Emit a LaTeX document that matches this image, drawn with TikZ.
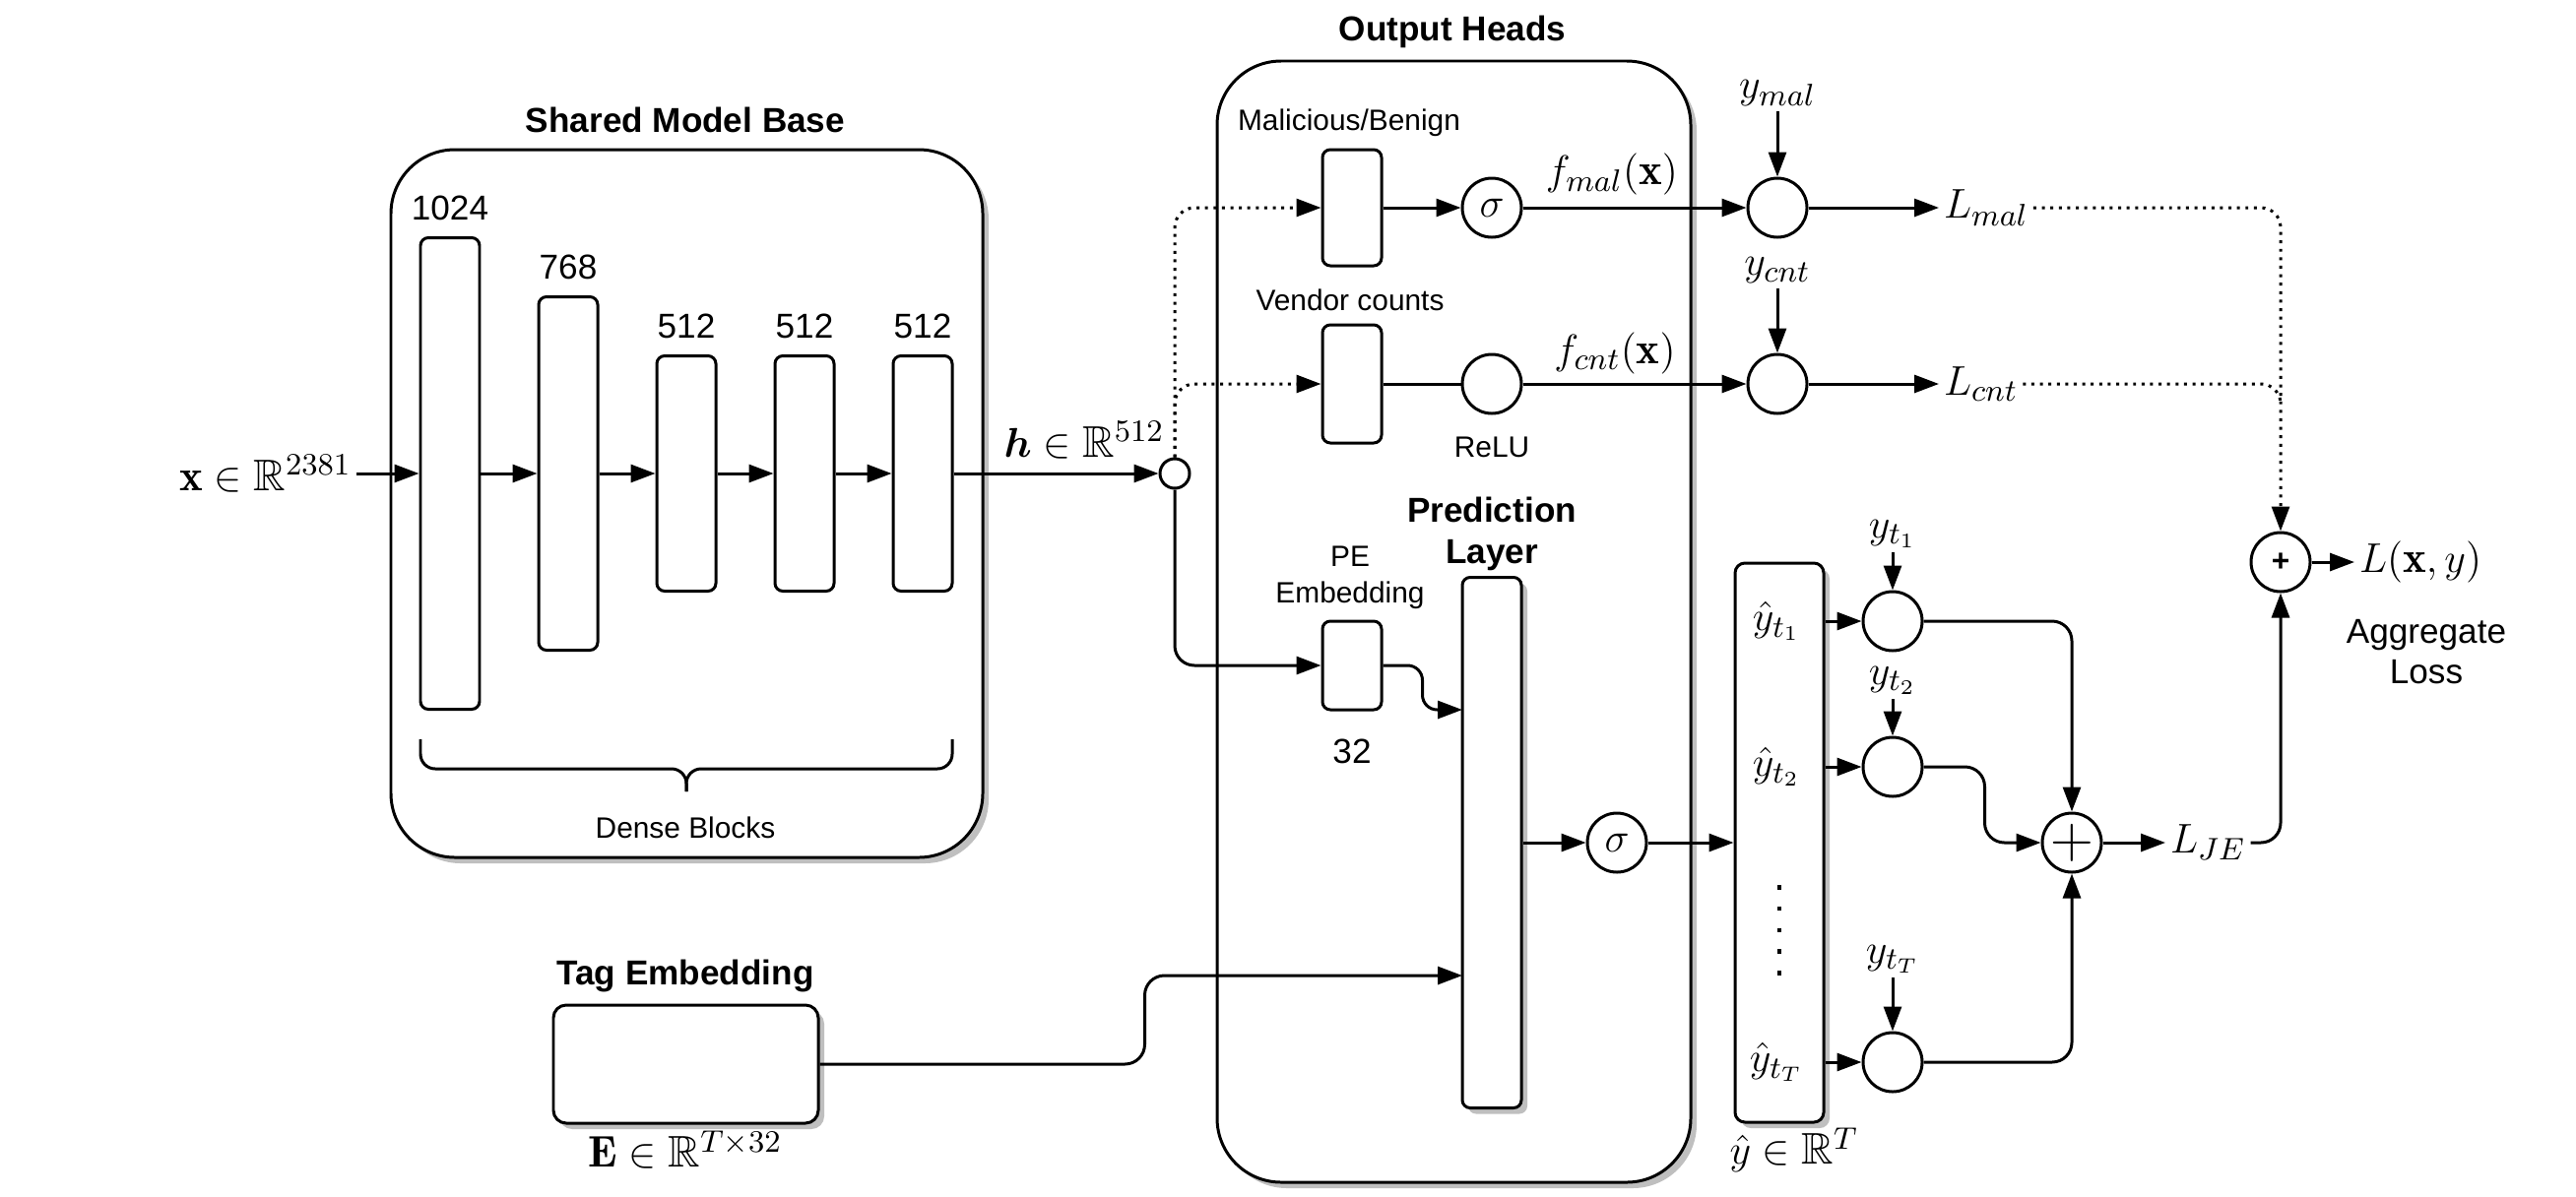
\documentclass[tikz,border=0pt]{standalone}
\usepackage{amsmath,amssymb}
\usepackage{fontspec}
\setsansfont{Liberation Sans}
\usetikzlibrary{positioning,arrows.meta,shadows}

\begin{document}
\begin{tikzpicture}[
  x=1mm, y=-1mm,
  line width=0.85pt,
  shadowed/.style={drop shadow={shadow xshift=0.6mm, shadow yshift=-0.6mm, fill=black!25, opacity=1}},
  panel/.style={draw, rounded corners=6.5mm, fill=white, shadowed},
  dense/.style={draw, rounded corners=0.8mm, fill=white, minimum width=6mm, inner sep=0pt},
  vec/.style={draw, fill=white, shadowed, inner sep=0pt},
  op/.style={draw, circle, fill=white, minimum size=6mm, inner sep=0pt, font=\fontsize{12.8}{15}\selectfont},
  grouptitle/.style={font=\sffamily\bfseries\fontsize{10}{12}\selectfont, align=center},
  txt/.style={font=\sffamily\fontsize{8.5}{10.4}\selectfont, align=center},
  num/.style={font=\sffamily\fontsize{10}{12}\selectfont},
  mth/.style={font=\fontsize{12.8}{15}\selectfont, inner sep=1pt},
  arr/.style={draw, -{Triangle[length=2.5mm, width=1.8mm]}},
  dotline/.style={draw, dash pattern=on 0.85pt off 1.6pt},
  dotarr/.style={arr, dotline}
]
\useasboundingbox (0,0) rectangle (261.6,121.5);

% shared model base
\node[panel, minimum width=60.1mm, minimum height=71.9mm] (base) at (69.75,51.15) {};
\node[grouptitle] (basetitle) at (69.6,12.2) {Shared Model Base};
\node[dense, minimum height=47.9mm] (b1) at (45.7,48.1) {};
\node[dense, minimum height=35.9mm] (b2) at (57.7,48.1) {};
\node[dense, minimum height=23.9mm] (b3) at (69.7,48.1) {};
\node[dense, minimum height=23.9mm] (b4) at (81.7,48.1) {};
\node[dense, minimum height=23.9mm] (b5) at (93.7,48.1) {};
\node[num, above=0.3mm of b1] (n1) {1024};
\node[num, above=0.3mm of b2] (n2) {768};
\node[num, above=0.3mm of b3] (n3) {512};
\node[num, above=0.3mm of b4] (n4) {512};
\node[num, above=0.3mm of b5] (n5) {512};
\coordinate (brl) at (42.7,75.1);
\coordinate (brm) at (69.7,80.4);
\coordinate (brr) at (96.7,75.1);
\draw[rounded corners=1.5mm] (brl) -- ++(0,3) -| (brm);
\draw[rounded corners=1.5mm] (brr) -- ++(0,3) -| (brm);
\node[txt] (densetxt) at (69.6,84.1) {Dense Blocks};

\node[mth, anchor=east] (xin) at (36.2,48.1) {$\mathbf{x}\in\mathbb{R}^{2381}$};
\node[mth] (hlbl) at (110.1,44.7) {$\boldsymbol{h}\in\mathbb{R}^{512}$};
\node[draw, circle, fill=white, minimum size=3mm, inner sep=0pt] (jn) at (119.3,48.1) {};

% output heads
\node[panel, minimum width=48.1mm, minimum height=113.9mm] (heads) at (147.65,63.15) {};
\node[grouptitle] (headstitle) at (147.5,3.2) {Output Heads};

\node[txt] (mbtxt) at (137.0,12.5) {Malicious/Benign};
\node[dense, minimum height=11.8mm] (mb) at (137.3,21.1) {};
\node[op] (sig1) at (151.5,21.1) {$\sigma$};
\node[mth] (fmal) at (163.7,17.7) {$f_{mal}(\mathbf{x})$};
\node[op] (ls1) at (180.5,21.1) {};
\node[mth] (ymal) at (180.5,9.5) {$y_{mal}$};
\node[mth, anchor=west] (lmal) at (196.9,21.1) {$L_{mal}$};

\node[txt] (vctxt) at (137.1,30.5) {Vendor counts};
\node[dense, minimum height=12mm] (vc) at (137.3,39.0) {};
\node[op] (relu) at (151.5,39.0) {};
\node[txt, below=0.9mm of relu] (relutxt) {ReLU};
\node[mth] (fcnt) at (164.0,35.9) {$f_{cnt}(\mathbf{x})$};
\node[op] (ls2) at (180.5,39.0) {};
\node[mth] (ycnt) at (180.5,27.5) {$y_{cnt}$};
\node[mth, anchor=west] (lcnt) at (196.9,39.0) {$L_{cnt}$};

\node[txt] (petxt) at (137.1,58.7) {PE\\Embedding};
\node[dense, minimum height=9mm] (pe) at (137.3,67.6) {};
\node[num, below=1.5mm of pe] (pedim) {32};

\node[grouptitle] (pltxt) at (151.5,54.2) {Prediction\\Layer};
\node[dense, shadowed, minimum height=53.9mm] (pl) at (151.5,85.6) {};
\coordinate (plin1) at (148.5,72.1);
\coordinate (plin2) at (148.5,99.1);
\node[op] (sig2) at (164.2,85.6) {$\sigma$};

% tag embedding
\node[grouptitle] (tetitle) at (69.6,99.1) {Tag Embedding};
\node[vec, rounded corners=1.3mm, minimum width=26.9mm, minimum height=12mm] (te) at (69.65,108.1) {};
\node[mth] (tedim) at (69.6,116.8) {$\mathbf{E}\in\mathbb{R}^{T\times 32}$};

% tag outputs and losses
\node[vec, rounded corners=1mm, minimum width=9mm, minimum height=56.8mm] (yhat) at (180.7,85.6) {};
\node[mth] (yh1) at (180.4,63.1) {$\hat{y}_{t_1}$};
\node[mth] (yh2) at (180.4,77.9) {$\hat{y}_{t_2}$};
\node[mth] (yhT) at (180.4,107.9) {$\hat{y}_{t_T}$};
\draw[line width=1.3pt, dash pattern=on 1.3pt off 4.9pt] (180.7,89.9) -- (180.7,99.3);
\node[mth] (yhatdim) at (182.2,116.8) {$\hat{y}\in\mathbb{R}^T$};

\node[op] (c1) at (192.2,63.1) {};
\node[op] (c2) at (192.2,77.9) {};
\node[op] (cT) at (192.2,107.9) {};
\node[mth] (yt1) at (192.2,54.2) {$y_{t_1}$};
\node[mth] (yt2) at (192.2,69.1) {$y_{t_2}$};
\node[mth] (ytT) at (192.2,97.4) {$y_{t_T}$};
\node[op, font=\fontsize{16}{16}\selectfont] (plus) at (210.4,85.6) {$+$};
\node[mth, anchor=west] (lje) at (219.9,85.6) {$L_{JE}$};

\node[op, font=\sffamily\bfseries\fontsize{9}{10}\selectfont] (plus2) at (231.6,57.1) {+};
\node[mth, anchor=west] (lxy) at (239.1,57.1) {$L(\mathbf{x},y)$};
\node[num, align=center, font=\sffamily\fontsize{10}{11.5}\selectfont] (agg) at (246.4,66.2) {Aggregate\\Loss};
\coordinate (lsjoin) at (231.6,41.0);

% connectors
\draw[arr] (xin.east |- b1) -- (b1);
\foreach \a/\b in {b1/b2, b2/b3, b3/b4, b4/b5}
  \draw[arr] (\a) -- (\b);
\draw[arr] (b5) -- (jn);
\draw[dotarr, rounded corners=2mm] (jn.north) |- (mb);
\draw[dotarr, rounded corners=2mm] (jn.north) |- (vc);
\draw[arr, rounded corners=2mm] (jn.south) |- (pe);

\draw[arr] (mb) -- (sig1);
\draw[arr] (sig1) -- (ls1);
\draw (vc) -- (relu);
\draw[arr] (relu) -- (ls2);
\draw[arr] (ymal) -- (ls1);
\draw[arr] (ycnt) -- (ls2);
\draw[arr] (ls1) -- (lmal);
\draw[arr] (ls2) -- (lcnt);
\draw[dotarr, rounded corners=2mm] (lmal) -| (plus2);
\draw[dotline, rounded corners=2mm] (lcnt) -| (lsjoin);

\draw[arr, rounded corners=1.5mm] (pe.east) -- ++(4,0) |- (plin1);
\draw[arr, rounded corners=2mm] (te.east) -- ++(33,0) |- (plin2);
\draw[arr] (pl) -- (sig2);
\draw[arr] (sig2) -- (yhat);

\draw[arr] (yhat.east |- c1) -- (c1);
\draw[arr] (yhat.east |- c2) -- (c2);
\draw[arr] (yhat.east |- cT) -- (cT);
\draw[arr] (yt1) -- (c1);
\draw[arr] (yt2) -- (c2);
\draw[arr] (ytT) -- (cT);
\draw[arr, rounded corners=2mm] (c1) -| (plus);
\draw[arr, rounded corners=2mm] (c2.east) -- ++(6.2,0) |- (plus);
\draw[arr, rounded corners=2mm] (cT) -| (plus);
\draw[arr] (plus) -- (lje);
\draw[arr, rounded corners=2mm] (lje) -| (plus2);
\draw[arr] (plus2) -- (lxy);
\end{tikzpicture}
\end{document}
